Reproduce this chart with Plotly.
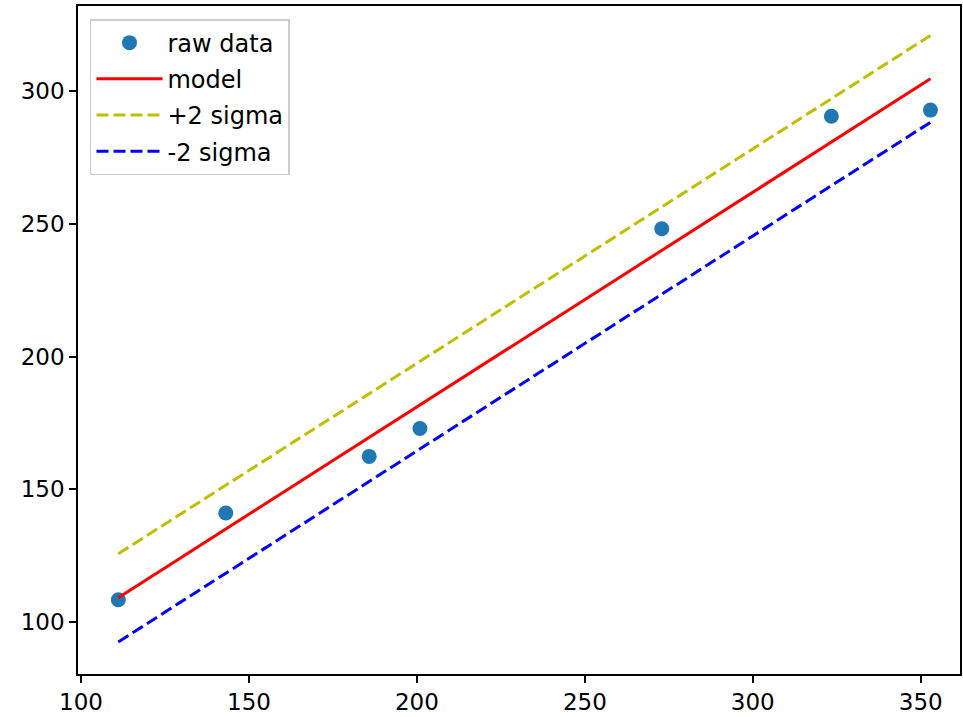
import plotly.graph_objects as go

# Observed samples
x_raw = [111.1, 143.1, 185.8, 200.9, 272.9, 323.4, 352.9]
y_raw = [108.4, 141.1, 162.4, 172.9, 248.1, 290.5, 292.8]

# Fitted model and its +/- 2 sigma band, evaluated at the data extent
x_line = [111.1, 352.9]
y_model = [109.2, 304.6]
y_upper = [125.7, 320.9]
y_lower = [92.5, 288.2]

x_ticks = [100, 150, 200, 250, 300, 350]
y_ticks = [100, 150, 200, 250, 300]

FONT = "DejaVu Sans"
TICK_FS = 23
LEGEND_FS = 24
DASH = "12px,5px"

fig = go.Figure()
fig.add_trace(go.Scatter(
    x=x_raw, y=y_raw, mode="markers", name="raw data",
    marker=dict(color="#1f77b4", size=15, line=dict(width=0)),
    legendgroup="a",
))
fig.add_trace(go.Scatter(
    x=x_line, y=y_model, mode="lines", name="model",
    line=dict(color="#ff0000", width=3), legendgroup="b",
))
fig.add_trace(go.Scatter(
    x=x_line, y=y_upper, mode="lines", name="+2 sigma",
    line=dict(color="#bfbf00", width=3, dash=DASH), legendgroup="c",
))
fig.add_trace(go.Scatter(
    x=x_line, y=y_lower, mode="lines", name="-2 sigma",
    line=dict(color="#0000ff", width=3, dash=DASH), legendgroup="d",
))

axis_common = dict(
    showline=True, mirror=True, linecolor="black", linewidth=1.7,
    ticks="outside", ticklen=7, tickwidth=1.7, tickcolor="black",
    showgrid=False, zeroline=False,
    tickfont=dict(family=FONT, size=TICK_FS, color="black"),
)

fig.update_layout(
    width=963, height=717,
    margin=dict(l=78, r=1, t=6, b=43),
    paper_bgcolor="white", plot_bgcolor="white",
    font=dict(family=FONT, size=TICK_FS, color="black"),
    xaxis=dict(range=[99.1, 361.7], tickvals=x_ticks, **axis_common),
    yaxis=dict(range=[80.45, 332.0], tickvals=y_ticks, **axis_common),
    showlegend=True,
    legend=dict(
        x=0.0136, y=0.9805, xanchor="left", yanchor="top",
        bgcolor="rgba(255,255,255,0.8)", bordercolor="#cccccc", borderwidth=1.5,
        font=dict(family=FONT, size=LEGEND_FS, color="black"),
        traceorder="grouped", tracegroupgap=2, itemwidth=66,
    ),
)

fig.write_html("out.html")
